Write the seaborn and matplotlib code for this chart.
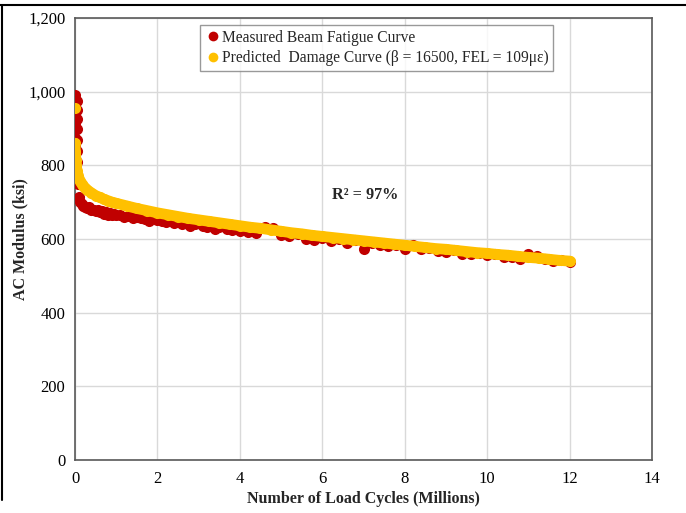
import matplotlib
matplotlib.use("Agg")
import matplotlib.pyplot as plt
import seaborn as sns
import pandas as pd
from matplotlib.lines import Line2D

# ---- data (millions of cycles, ksi) ----
meas_x = [0.0, 0.0, 0.0, 0.0, 0.0, 0.0, 0.0, 0.0, 0.0, 0.0, 0.0, 0.0,
          0.05, 0.05, 0.05, 0.05, 0.05, 0.05, 0.05, 0.05, 0.07, 0.1, 0.13,
          0.16, 0.2, 0.25, 0.3, 0.35, 0.4, 0.45, 0.5, 0.55, 0.6, 0.65, 0.7,
          0.75, 0.8, 0.85, 0.9, 0.95,
          1.0, 1.1, 1.2, 1.3, 1.4, 1.5, 1.6, 1.7, 1.8, 1.9, 2.0, 2.1, 2.2,
          2.3, 2.4, 2.5, 2.6, 2.7, 2.8, 2.9, 3.0, 3.1, 3.2, 3.3, 3.4, 3.5,
          3.6, 3.7, 3.8, 3.9, 4.0, 4.2, 4.4, 4.6, 4.8, 5.0, 5.2, 5.4, 5.6,
          5.8, 6.0, 6.2, 6.4,
          6.6, 6.8, 7.0, 7.2, 7.4, 7.6, 7.8, 8.0, 8.2, 8.4, 8.6, 8.8, 9.0, 9.2,
          9.4, 9.6, 9.8, 10.0, 10.2, 10.4, 10.6, 10.8, 11.0, 11.2, 11.4, 11.6,
          11.8, 12.0]
meas_y = [990, 975, 955, 935, 915, 895, 875, 855, 835, 815, 795, 775,
          975, 950, 925, 900, 870, 840, 810, 780, 750, 715, 700,
          695, 690, 688, 684, 686, 680, 678, 675, 679, 672, 675, 668,
          672, 666, 670, 664, 667,
          664, 666, 660, 663, 656, 660, 658, 653, 649, 665, 652, 648, 646,
          651, 644, 647, 640, 643, 636, 641, 644, 634, 632, 638, 628, 633,
          636, 627, 624, 630, 622, 619, 615, 632, 630, 610, 607, 614, 600,
          597, 602, 595, 600,
          590, 597, 572, 590, 585, 580, 583, 574, 585, 572, 575, 568, 565, 570,
          560, 558, 562, 556, 558, 550, 552, 546, 560, 555, 545, 540,
          542, 538]

pred_x = [0.0, 0.0, 0.01, 0.02, 0.03, 0.05, 0.08, 0.12, 0.16, 0.2, 0.25, 0.3,
          0.4, 0.5, 0.6, 0.7, 0.8, 0.9, 1.0, 1.25, 1.5, 1.75, 2.0, 2.25, 2.5,
          2.75, 3.0, 3.25, 3.5, 3.75, 4.0, 4.25, 4.5, 4.75, 5.0, 5.25, 5.5,
          5.75, 6.0, 6.25, 6.5, 6.75, 7.0, 7.25, 7.5, 7.75, 8.0, 8.25, 8.5,
          8.75, 9.0, 9.25, 9.5, 9.75, 10.0, 10.25, 10.5, 10.75, 11.0, 11.25,
          11.5, 11.75, 12.0]
pred_y = [955, 860, 835, 815, 800, 785, 770, 758, 750, 744, 738, 733,
          725, 718, 713, 708, 704, 700, 697, 690, 683, 677, 671, 666, 661,
          656, 652, 648, 644, 640, 636, 632, 629, 625, 621, 617, 614,
          610, 607, 604, 601, 598, 595, 592, 589, 586, 583, 580, 577,
          574, 572, 569, 566, 563, 561, 558, 556, 553, 550, 548,
          545, 542, 540]

x_ticks = [0, 2, 4, 6, 8, 10, 12, 14]
y_ticks = [0, 200, 400, 600, 800, 1000, 1200]
meas_label = "Measured Beam Fatigue Curve"
pred_label = "Predicted  Damage Curve (β = 16500, FEL = 109με)"
r2_text = "R² = 97%"

meas = pd.DataFrame({"x": meas_x, "y": meas_y})
pred = pd.DataFrame({"x": pred_x, "y": pred_y})

sns.set_theme(style="white")
plt.rcParams["font.family"] = ["Liberation Serif", "DejaVu Serif"]

RED = "#C00000"
YEL = "#FFC000"
MS = 64  # marker area in pt^2 (~11 px diameter)

fig = plt.figure(figsize=(6.86, 5.13), dpi=100)
ax = fig.add_axes([75/686, 53/513, 577/686, 442/513])

sns.scatterplot(data=meas, x="x", y="y", ax=ax, color=RED, s=MS,
                linewidth=0, zorder=3, legend=False)
# continuous predicted band (without the isolated first point)
sns.lineplot(data=pred.iloc[1:], x="x", y="y", ax=ax, color=YEL,
             linewidth=7.8, sort=False, estimator=None, zorder=4,
             legend=False, solid_capstyle="round", solid_joinstyle="round")
sns.scatterplot(data=pred, x="x", y="y", ax=ax, color=YEL, s=MS,
                linewidth=0, zorder=5, legend=False)

ax.set_xlim(0, 14)
ax.set_ylim(0, 1200)
ax.set_xticks(x_ticks)
ax.set_yticks(y_ticks)
ax.set_xticklabels([str(t) for t in x_ticks])
ax.set_yticklabels([f"{t:,}" for t in y_ticks])
ax.tick_params(axis="both", labelsize=12, labelcolor="#000000", length=5,
               width=1, direction="out", pad=3, color="#404040")
ax.tick_params(axis="y", pad=2)
ax.grid(True, color="#D9D9D9", linewidth=1)
ax.set_axisbelow(True)
for side in ["left", "bottom", "top", "right"]:
    ax.spines[side].set_visible(True)
    ax.spines[side].set_color("#595959")
    ax.spines[side].set_linewidth(1.2)

ax.set_xlabel("Number of Load Cycles (Millions)", fontsize=11.5,
              fontweight="bold", labelpad=3)
ax.set_ylabel("AC Modulus (ksi)", fontsize=11.5, fontweight="bold",
              labelpad=0)

ax.text(7.04, 719, r2_text, fontsize=11.7, fontweight="bold", ha="center",
        va="center")

handles = [
    Line2D([0], [0], marker="o", color="none", markerfacecolor=RED,
           markeredgecolor="none", markersize=7),
    Line2D([0], [0], marker="o", color="none", markerfacecolor=YEL,
           markeredgecolor="none", markersize=7),
]
leg = ax.legend(handles, [meas_label, pred_label], loc="upper left",
                bbox_to_anchor=(0.217, 0.984), frameon=True, fancybox=False,
                fontsize=11.2, handletextpad=0.1, handlelength=1.0,
                borderpad=0.3, labelspacing=0.3, borderaxespad=0)
leg.get_frame().set_edgecolor("#808080")
leg.get_frame().set_linewidth(1)

# figure border
fig.add_artist(Line2D([0, 1], [1 - 5/513, 1 - 5/513], transform=fig.transFigure,
                      color="black", linewidth=1.5))
fig.add_artist(Line2D([2/686, 2/686], [1 - 5/513, 13/513], transform=fig.transFigure,
                      color="black", linewidth=1.5))

fig.savefig("out.png", dpi=100)
